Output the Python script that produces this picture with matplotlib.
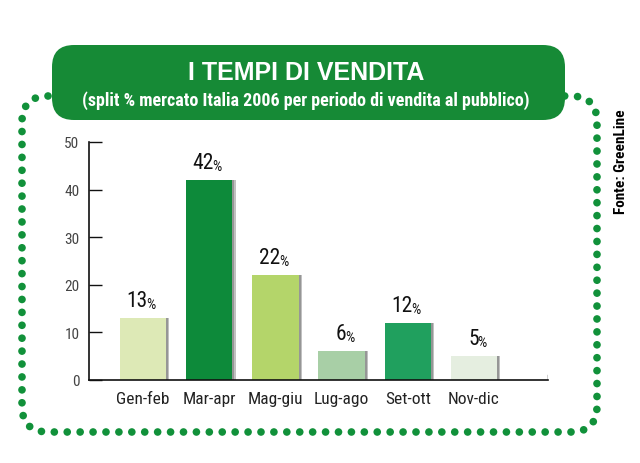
import matplotlib
matplotlib.use("Agg")
import numpy as np
import matplotlib.pyplot as plt
from matplotlib import font_manager as fm
from matplotlib.patches import FancyBboxPatch

categories = ["Gen-feb", "Mar-apr", "Mag-giu", "Lug-ago", "Set-ott", "Nov-dic"]
values = [13, 42, 22, 6, 12, 5]
colors = ["#dde9b6", "#0d8a3a", "#b4d56a", "#a8cfa6", "#20a05e", "#e5eee0"]
yticks = [0, 10, 20, 30, 40, 50]
title = "I TEMPI DI VENDITA"
subtitle = "(split % mercato Italia 2006 per periodo di vendita al pubblico)"
source = "Fonte: GreenLine"

names = {f.name for f in fm.fontManager.ttflist}
narrow = next((n for n in ["Liberation Sans Narrow", "Roboto Condensed", "Open Sans Condensed", "Liberation Sans"] if n in names), "DejaVu Sans")

W, H = 640, 464
fig = plt.figure(figsize=(6.4, 4.64), dpi=100)

# decoration axes in pixel coordinates
deco = fig.add_axes([0, 0, 1, 1], zorder=0)
deco.set_xlim(0, W)
deco.set_ylim(H, 0)
deco.axis("off")

# dotted rounded border: sample evenly spaced dots along a rounded-rect outline
outline = FancyBboxPatch((22, 97), 575, 336, boxstyle="round,pad=0,rounding_size=26")
poly = outline.get_path().to_polygons(closed_only=False)[0]
seg = np.diff(poly, axis=0)
cum = np.concatenate([[0], np.cumsum(np.hypot(seg[:, 0], seg[:, 1]))])
total = cum[-1]
n = int(round(total / 12.9))
s = np.linspace(0, total, n, endpoint=False)
dx = np.interp(s, cum, poly[:, 0])
dy = np.interp(s, cum, poly[:, 1])
deco.scatter(dx, dy, s=30, color="#11913a", edgecolors="none", zorder=1)

box = FancyBboxPatch((52, 46), 513, 75, boxstyle="round,pad=0,rounding_size=22",
                     facecolor="#168a36", edgecolor="none", zorder=2)
deco.add_patch(box)
deco.text(306, 73, title, color="white", fontsize=18, fontweight="bold",
          family="Liberation Sans", ha="center", va="center", zorder=3)
deco.text(306, 101, subtitle, color="white", fontsize=13, fontweight="bold",
          family=narrow, ha="center", va="center", zorder=3)
deco.text(621, 162, source, color="black", fontsize=11, fontweight="bold",
          family=narrow, ha="center", va="center", rotation=90, zorder=3)

# chart axes
ax = fig.add_axes([89 / W, 1 - 381 / H, (548 - 89) / W, (381 - 143) / H], zorder=1)
ax.patch.set_alpha(0)
x = list(range(len(categories)))
ax.bar([i + 0.05 for i in x], values, width=0.70, color="#333333", alpha=0.3, zorder=1)
ax.bar([i + 0.03 for i in x], values, width=0.70, color="#333333", alpha=0.3, zorder=1)
ax.bar(x, values, width=0.70, color=colors, zorder=2)
ax.set_xlim(-0.816, 6.118)
ax.set_ylim(0, 50)
ax.set_yticks(yticks)
ax.set_xticks(x)
ax.set_xticklabels(categories, family=narrow, fontsize=12.5, color="#222222")
for lab in ax.get_yticklabels():
    lab.set_family(narrow)
    lab.set_fontsize(11)
ax.tick_params(axis="y", direction="in", length=9, width=1, pad=7, colors="#111111", labelcolor="#444444")
ax.tick_params(axis="x", length=0, pad=8)
for sp in ["top", "right"]:
    ax.spines[sp].set_visible(False)
for sp in ["left", "bottom"]:
    ax.spines[sp].set_color("#111111")
    ax.spines[sp].set_linewidth(1.2)
ax.axvline(6.118, ymin=0, ymax=0.02, color="#111111", lw=1)

for i, v in enumerate(values):
    ax.annotate(str(v), (i + 0.07, v), xytext=(0, 5), textcoords="offset points",
                ha="right", va="bottom", fontsize=15.5, family=narrow, color="#111111")
    ax.annotate("%", (i + 0.07, v), xytext=(-0.8, 5), textcoords="offset points",
                ha="left", va="bottom", fontsize=10.5, family=narrow, color="#111111")

fig.savefig("out.png", dpi=100)
